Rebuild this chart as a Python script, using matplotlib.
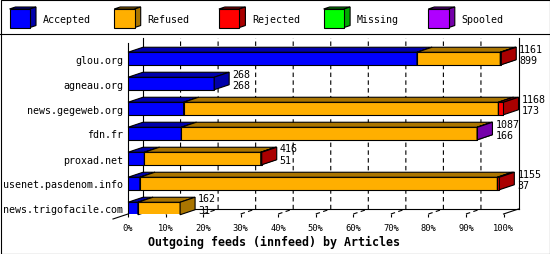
import matplotlib.pyplot as plt
from matplotlib.patches import Polygon, Rectangle

plt.rcParams['font.family'] = 'DejaVu Sans Mono'

hosts = ['glou.org', 'agneau.org', 'news.gegeweb.org', 'fdn.fr',
         'proxad.net', 'usenet.pasdenom.info', 'news.trigofacile.com']
offered = [1161, 268, 1168, 1087, 416, 1155, 162]
accepted = [899, 268, 173, 166, 51, 37, 31]
refused = [259, 0, 979, 920, 362, 1112, 131]
rejected = [3, 0, 16, 0, 3, 6, 0]
missing = [0, 0, 0, 0, 0, 0, 0]
spooled = [0, 0, 0, 1, 0, 0, 0]

names = ['Accepted', 'Refused', 'Rejected', 'Missing', 'Spooled']
series = [accepted, refused, rejected, missing, spooled]
colors = ['#0000FF', '#FFAF00', '#FF0000', '#00FF00', '#AF00FF']
shades = ['#0000AA', '#AA7500', '#AA0000', '#00AA00', '#7500AA']
pcts = list(range(0, 101, 10))

W, H = 550, 255
fig = plt.figure(figsize=(W / 100, H / 100), dpi=100)
fig.patch.set_facecolor('white')

# background layer in pixel units: border, legend, separator
bg = fig.add_axes([0, 0, 1, 1])
bg.set_xlim(0, W)
bg.set_ylim(H, 0)
bg.axis('off')
bg.add_patch(Rectangle((0.5, 0.5), W - 1, H - 1, fill=False, ec='k', lw=0.8))
bg.plot([0, W], [35, 35], color='k', lw=0.8)
for k, (n, c, d) in enumerate(zip(names, colors, shades)):
    x = 9.5 + k * 104.7
    xr = x + 20.5
    bg.add_patch(Polygon([(x, 10), (xr, 10), (xr + 6, 8), (x + 6, 8)], fc=d, ec='k', lw=0.8))
    bg.add_patch(Polygon([(xr, 28.5), (xr, 10), (xr + 6, 8), (xr + 6, 26.5)], fc=d, ec='k', lw=0.8))
    bg.add_patch(Rectangle((x, 10), 20.5, 18.5, fc=c, ec='k', lw=0.8))
    bg.text(x + 33, 20, n, ha='left', va='center', fontsize=7.2)

# main plot, front plane
x0, x1, ytop, ybot = 128, 503.5, 44, 215
ax = fig.add_axes([x0 / W, 1 - ybot / H, (x1 - x0) / W, (ybot - ytop) / H])
ax.set_facecolor('none')
xmax = max(offered)
Y_TOP, Y_BOT = -0.62, 6.22
ax.set_xlim(0, xmax)
ax.set_ylim(Y_BOT, Y_TOP)
DX = 15 * xmax / (x1 - x0)
DY = 5 / 25.0

for s in ['top', 'right', 'bottom']:
    ax.spines[s].set_visible(False)
ax.spines['left'].set_linewidth(0.8)
ax.set_xticks([xmax * p / 100 for p in pcts], [f'{p}%' for p in pcts])
ax.set_yticks(range(len(hosts)), hosts)
ax.tick_params(axis='y', length=0, pad=3.5, labelsize=7.2)
ax.tick_params(axis='x', length=2.5, width=0.8, pad=4, labelsize=6.3)

# 3d walls and floor
lk = dict(color='k', lw=0.8, clip_on=False, zorder=1)
ax.plot([DX, DX], [Y_BOT - DY, Y_TOP - DY], **lk)
ax.plot([DX, xmax + DX], [Y_BOT - DY, Y_BOT - DY], **lk)
ax.plot([xmax + DX, xmax + DX], [Y_BOT - DY, Y_TOP - DY], **lk)
ax.plot([xmax, xmax + DX], [Y_BOT, Y_BOT - DY], **lk)
ax.plot([-DX, 0], [Y_BOT + DY, Y_BOT], **lk)
for p in pcts[1:-1]:
    gx = xmax * p / 100
    ax.plot([gx, gx + DX, gx + DX], [Y_BOT, Y_BOT - DY, Y_TOP - DY],
            ls=(0, (4, 3)), color='k', lw=0.8, clip_on=False, zorder=1)

# stacked 3d bars
for i in range(len(hosts)):
    left = 0
    for s, c, d in zip(series, colors, shades):
        w = s[i]
        if w == 0:
            continue
        ya, yb = i - 0.25, i + 0.25
        ax.barh(i, w, left=left, height=0.5, color=c, edgecolor='k', lw=0.8, zorder=3)
        ax.add_patch(Polygon([(left, ya), (left + w, ya), (left + w + DX, ya - DY), (left + DX, ya - DY)],
                             fc=d, ec='k', lw=0.8, zorder=3, clip_on=False))
        ax.add_patch(Polygon([(left + w, ya), (left + w, yb), (left + w + DX, yb - DY), (left + w + DX, ya - DY)],
                             fc=d, ec='k', lw=0.8, zorder=3, clip_on=False))
        left += w
    ax.annotate(str(offered[i]), (offered[i] + DX, i), xytext=(3, 10), textcoords='offset pixels',
                ha='left', va='center', fontsize=7.2, zorder=4, annotation_clip=False)
    ax.annotate(str(accepted[i]), (offered[i] + DX, i), xytext=(3, -1.5), textcoords='offset pixels',
                ha='left', va='center', fontsize=7.2, zorder=4, annotation_clip=False)

fig.text(274.5 / W, 1 - 242 / H, 'Outgoing feeds (innfeed) by Articles',
         ha='center', va='center', fontsize=8.4, fontweight='bold')

plt.savefig('out.png', dpi=100)
